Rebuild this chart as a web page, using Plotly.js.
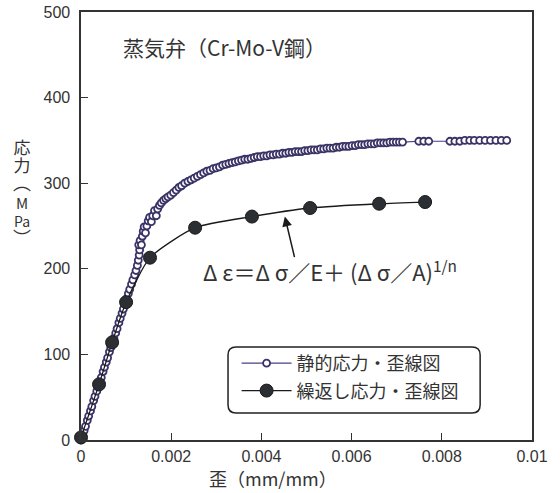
<!DOCTYPE html>
<html><head><meta charset="utf-8">
<script src="https://cdn.plot.ly/plotly-3.0.1.min.js"></script>
<style>html,body{margin:0;padding:0;background:#fff}#chart{width:560px;height:493px}</style>
</head><body><div id="chart"></div>
<script>
// Static stress-strain curve (静的応力・歪線図)
var staticStrain = [0,0.00003,0.00007,0.0001,0.00014,0.00017,0.00021,0.00024,0.00028,0.00031,0.00035,0.00038,0.00042,0.00045,0.00049,0.00052,0.00056,0.00059,0.00063,0.00066,0.0007,0.00073,0.00077,0.0008,0.00084,0.00087,0.00091,0.00094,0.00098,0.00101,0.00105,0.00108,0.00112,0.00115,0.00119,0.00122,
  0.00125,0.00127,0.00129,0.0013,0.00128,0.00131,0.00134,0.00136,0.00138,0.0014,0.00143,0.00146,0.00149,0.00152,0.00156,0.00159,0.00163,0.00167,0.0017,0.00174,0.00178,0.00183,0.00188,0.00193,
  0.00199,0.00205,0.00211,0.00217,0.00223,0.0023,0.00237,0.00244,0.00251,0.00258,0.00265,0.00272,0.00279,0.00286,0.00293,0.003,0.00307,0.00314,0.00321,0.00328,0.00335,0.00342,
  0.00349,0.00356,0.00363,0.0037,0.00377,0.00384,0.00391,0.00398,0.00405,0.00412,0.00419,0.00426,0.00433,0.0044,
  0.00447,0.00454,0.00461,0.00468,0.00475,0.00482,0.00489,0.00496,0.00503,0.0051,0.00517,0.00524,0.00531,0.00538,0.00545,0.00552,0.00559,0.00566,0.00573,0.0058,0.00587,0.00594,0.00601,0.00608,0.00615,0.00622,0.00629,0.00636,0.00643,0.0065,0.00657,0.00664,0.00671,0.00678,0.00685,0.00692,0.00699,0.00706,0.00713,
  0.00749,0.0076,0.00771,0.00818,0.00829,0.0084,0.00851,0.00862,0.00872,0.00884,0.00896,0.00908,0.0092,0.00932,0.00944];
var staticStress = [0,5,11,16,23,28,34,39,46,51,57,62,68,73,80,85,91,96,103,108,114,119,125,130,137,142,148,153,160,165,171,176,182,187,193,198,
  204,210,216,222,228,233,228,238,244,249,242,250,256,260,255,262,268,262,270,274,277,280,282,284,
  286,289,292,295,297,300,302,304,306,308,310,312,314,315,317,318,319,321,322,323,324,325,
  326,327,328,328,329,330,331,331,332,332,333,333,334,334,
  335,335,336,336,337,337,337,338,338,339,339,339,340,340,341,341,341,342,342,343,343,343,344,344,345,345,345,346,346,346,347,347,347,347,348,348,348,348,348,
  349,349,349,349,349,349,350,350,350,350,350,350,350,350,350];
// Cyclic stress-strain curve (繰返し応力・歪線図)
var cyclicStrain = [0,0.0004,0.00069,0.001,0.00153,0.00253,0.00379,0.00508,0.00661,0.00763];
var cyclicStress = [3,65,114,161,213,248,261,271,276,278];

var xTicks = [0,0.002,0.004,0.006,0.008,0.01];
var xTickText = ['0','0.002','0.004','0.006','0.008','0.01'];
var yTicks = [0,100,200,300,400,500];
var legendNames = ['静的応力・歪線図','繰返し応力・歪線図'];

var JP = '"Noto Sans CJK JP", "Liberation Sans", sans-serif';
var NUM = '"Liberation Sans", Arial, sans-serif';
var TXT = '#333333';

var traces = [
  {x: staticStrain, y: staticStress, name: legendNames[0], type:'scatter', mode:'lines+markers',
   line:{color:'#4a3f85', width:1.2},
   marker:{symbol:'circle', size:7, color:'#ffffff', line:{color:'#3a3366', width:1.8}},
   cliponaxis:false, legendgroup:'a'},
  {x: cyclicStrain, y: cyclicStress, name: legendNames[1], type:'scatter', mode:'lines+markers',
   line:{color:'#1a1a1a', width:1.3, shape:'spline', smoothing:0.6},
   marker:{symbol:'circle', size:13, color:'#2b2f33', line:{color:'#1a1a1a', width:1}},
   cliponaxis:false, legendgroup:'b'}
];

// rounded legend frame in data coordinates
var bx0=0.00326, bx1=0.00885, by0=31.5, by1=108.6, rx=0.00018, ry=9.3;
var framePath = 'M'+(bx0+rx)+','+by0+' L'+(bx1-rx)+','+by0+' Q'+bx1+','+by0+' '+bx1+','+(by0+ry)+
  ' L'+bx1+','+(by1-ry)+' Q'+bx1+','+by1+' '+(bx1-rx)+','+by1+' L'+(bx0+rx)+','+by1+
  ' Q'+bx0+','+by1+' '+bx0+','+(by1-ry)+' L'+bx0+','+(by0+ry)+' Q'+bx0+','+by0+' '+(bx0+rx)+','+by0+' Z';

var yTitle = '<span style="font-size:17px">応</span><br><span style="font-size:17px">力</span><br>' +
  '<span style="font-size:18px">︵</span><br><span style="font-size:15px">M</span><br>Pa<br><span style="font-size:18px">︶</span>';

var annotations = [
    {xref:'paper', yref:'paper', x:0.088, y:0.918, xanchor:'left', yanchor:'middle', showarrow:false,
     text:'蒸気弁（Cr-Mo-V鋼）', font:{family:JP, size:21, color:TXT}},
    {xref:'paper', yref:'paper', x:0.265, y:0.397, xanchor:'left', yanchor:'middle', showarrow:false,
     text:'Δ ε＝Δ σ／E＋ (Δ σ／A)<sup>1/n</sup>', font:{family:JP, size:22, color:TXT}},
    {xref:'x', yref:'y', x:0.00452, y:261, ax:10, ay:42, text:'', showarrow:true, arrowhead:2, arrowsize:1.3, arrowwidth:1.5, arrowcolor:'#1a1a1a'},
    {xref:'paper', yref:'paper', x:0.426, y:-0.089, xanchor:'center', yanchor:'middle', showarrow:false,
     text:'歪（mm/mm）', font:{family:JP, size:18, color:TXT}},
    {xref:'paper', yref:'paper', x:-0.131, y:(440-192)/428, xanchor:'center', yanchor:'middle', showarrow:false,
     text:yTitle, font:{family:JP, size:14, color:TXT}}
];

var layout = {
  width:560, height:493,
  margin:{l:81, r:28, t:12, b:53},
  paper_bgcolor:'#ffffff', plot_bgcolor:'#ffffff',
  showlegend:true,
  legend:{x:0.345, y:0.222, xanchor:'left', yanchor:'top', bgcolor:'rgba(0,0,0,0)', borderwidth:0,
    font:{family:JP, size:18, color:TXT}, itemwidth:50, tracegroupgap:1, traceorder:'grouped'},
  xaxis:{range:[0,0.01], tickvals:xTicks, ticktext:xTickText, ticks:'inside', ticklen:7, tickwidth:1.3, tickcolor:'#333',
    showline:true, linecolor:'#333', linewidth:1.6, mirror:true, showgrid:false, zeroline:false,
    tickfont:{family:NUM, size:16, color:TXT}, ticklabelstandoff:1},
  yaxis:{range:[0,500], tickvals:yTicks, ticks:'inside', ticklen:7, tickwidth:1.3, tickcolor:'#333',
    showline:true, linecolor:'#333', linewidth:1.6, mirror:true, showgrid:false, zeroline:false,
    tickfont:{family:NUM, size:16, color:TXT}, ticklabelstandoff:6},
  shapes:[{type:'path', xref:'x', yref:'y', path:framePath, line:{color:'#222', width:1.5}, fillcolor:'rgba(0,0,0,0)', layer:'below'}],
  annotations: annotations
};
Plotly.newPlot('chart', traces, layout, {displayModeBar:false, staticPlot:true});
</script></body></html>
